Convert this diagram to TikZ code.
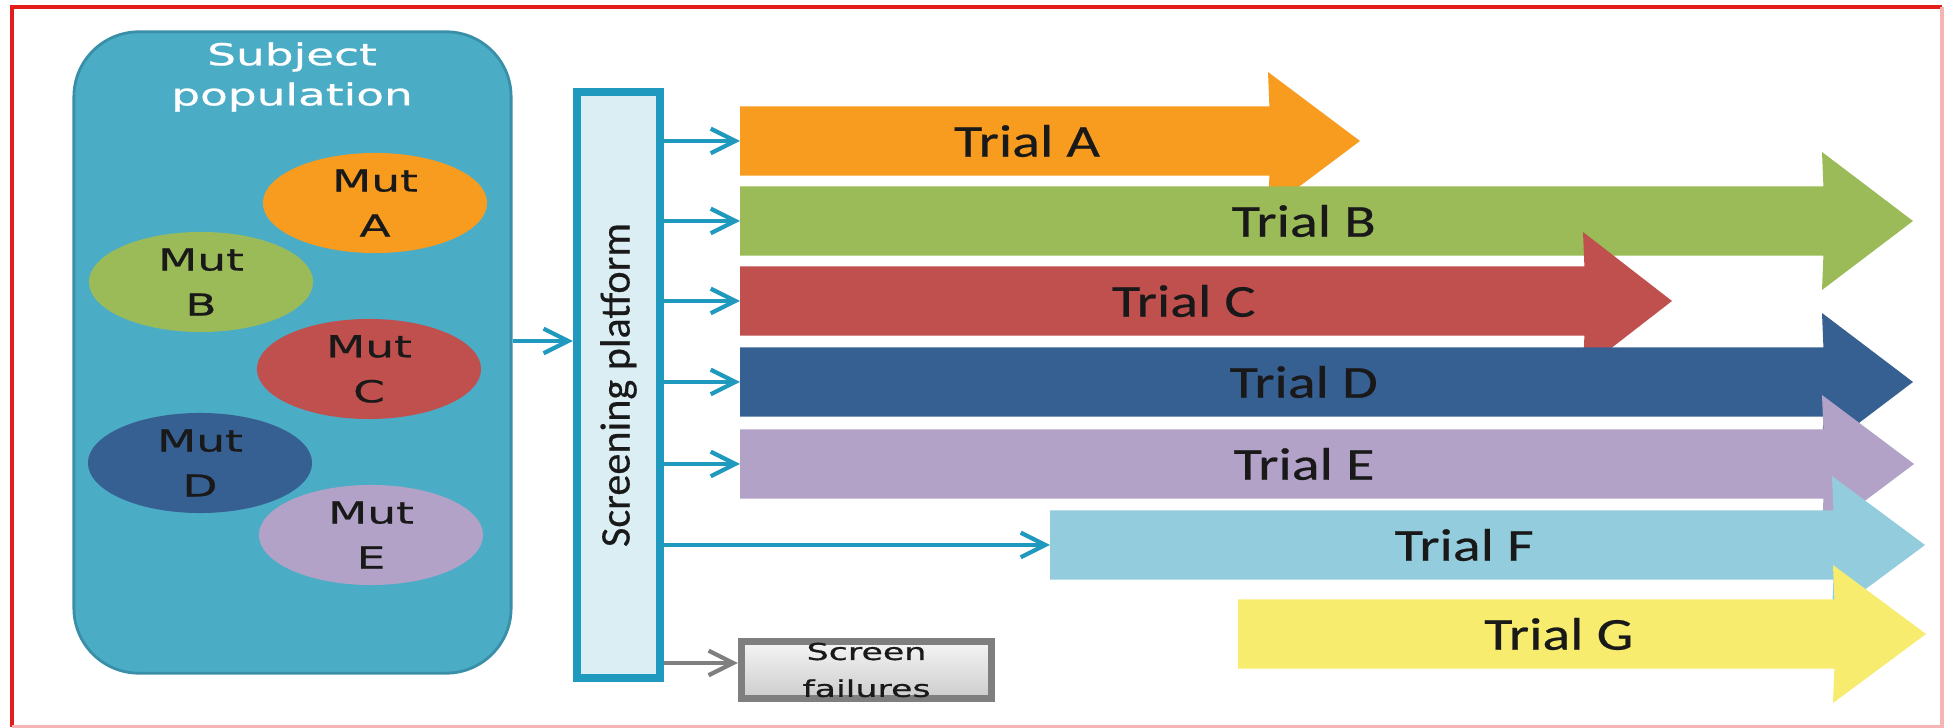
\documentclass[tikz,border=0pt]{standalone}
\usepackage{fontspec}
\usepackage{graphicx}
\usepackage{tikz}
\usetikzlibrary{arrows.meta,shapes.geometric}

\newfontfamily\trialfont[FakeStretch=1.27,FakeBold=0.5]{Carlito}
\newfontfamily\platfont[FakeBold=0.4]{Carlito}
\newfontfamily\mutfont[FakeStretch=1.5,FakeBold=0.7]{DejaVu Sans}

\definecolor{frame}{HTML}{E31C1C}
\definecolor{framelight}{HTML}{F6B4B4}
\definecolor{pop}{HTML}{4BACC6}
\definecolor{popline}{HTML}{3A8FA8}
\definecolor{feed}{HTML}{1F99BE}
\definecolor{platfill}{HTML}{DAEEF3}
\definecolor{muta}{HTML}{F89C1F}
\definecolor{mutb}{HTML}{9BBB59}
\definecolor{mutc}{HTML}{C0504D}
\definecolor{mutd}{HTML}{376092}
\definecolor{mute}{HTML}{B3A2C7}
\definecolor{trialf}{HTML}{93CDDD}
\definecolor{trialg}{HTML}{F7EC6E}
\definecolor{failgray}{HTML}{7F7F7F}

% name, colour, tail, head base, tip, y, text
\newcommand{\trialarrow}[7]{
  \node[trialbody, minimum width={(#4-#3)*0.01cm}] (#1) at (#3,#6) {};
  \fill[#2] (#1.north west) -- (#1.north east) -- (#4,{#6-69}) -- (#5,#6) -- (#4,{#6+69})
    -- (#1.south east) -- (#1.south west) -- cycle;
  \node[triallabel] (#1-label) at ({(#3+#4)/2+(#5-#4)/4},#6) {#7};
}

\begin{document}
\begin{tikzpicture}[x=0.01cm, y=-0.01cm,
  mut/.style={ellipse, minimum width=2.24cm, minimum height=1cm, inner sep=0pt, align=center,
    text=black!90, font=\mutfont\fontsize{8.6}{12.8}\selectfont},
  trialbody/.style={rectangle, anchor=west, minimum height=0.68cm, inner sep=0pt},
  triallabel/.style={text=black!90, font=\trialfont\fontsize{13}{15}\selectfont},
  feedline/.style={draw=feed, line width=1.2pt, -{Straight Barb[length=7pt, width=7pt]}},
  failline/.style={feedline, draw=failgray}]

  \useasboundingbox (0,0) rectangle (1944,728);
  \fill[white] (0,0) rectangle (1944,728);
  \draw[frame, line width=0.9pt] (12,727) -- (12,7) -- (1942,7);
  \draw[framelight, line width=0.9pt] (1942,7) -- (1942,727) -- (12,727);

  % subject population
  \node[draw=popline, fill=pop, line width=0.8pt, rounded corners=0.65cm,
        minimum width=4.37cm, minimum height=6.41cm] (pop) at (292.5,352.5) {};
  \node[text=white, align=center, font=\mutfont\fontsize{8.6}{11.4}\selectfont] (poptitle) at (292,77) {Subject\\population};
  \node[mut, fill=muta] (muta) at (375,203) {Mut\\A};
  \node[mut, fill=mutb] (mutb) at (201,282) {Mut\\B};
  \node[mut, fill=mutc] (mutc) at (369,369) {Mut\\C};
  \node[mut, fill=mutd] (mutd) at (200,463) {Mut\\D};
  \node[mut, fill=mute] (mute) at (371,535) {Mut\\E};

  % screening
  \node[draw=feed, fill=platfill, line width=2.3pt, minimum width=0.83cm, minimum height=5.86cm,
        inner sep=0pt, text=black!90] (plat) at (618.5,385)
        {\rotatebox{90}{\platfont\fontsize{12}{14}\selectfont Screening platform}};

  % trials
  \trialarrow{trialA}{muta}{740}{1268}{1360}{141}{Trial A}
  \trialarrow{trialB}{mutb}{740}{1822}{1913}{221}{Trial B}
  \trialarrow{trialC}{mutc}{740}{1583}{1672}{301}{Trial C}
  \trialarrow{trialD}{mutd}{740}{1822}{1913}{382}{Trial D}
  \trialarrow{trialE}{mute}{740}{1822}{1914}{464}{Trial E}
  \trialarrow{trialF}{trialf}{1050}{1832}{1925}{545}{Trial F}
  \trialarrow{trialG}{trialg}{1238}{1833}{1926}{634}{Trial G}

  \node[draw=failgray, line width=2pt, top color=gray!8, bottom color=gray!40,
        minimum width=2.5cm, minimum height=0.57cm, inner sep=0pt, align=center, text=black!90,
        font=\mutfont\fontsize{6.6}{10.5}\selectfont] (fail) at (866.5,670) {Screen\\failures};

  \coordinate (feedin) at (0,341);
  \coordinate (failin) at ([yshift=2pt]fail.west);
  \path
  (pop.east |- feedin) edge[feedline] (plat.west |- feedin)
  (plat.east |- trialA.west) edge[feedline] (trialA.west)
  (plat.east |- trialB.west) edge[feedline] (trialB.west)
  (plat.east |- trialC.west) edge[feedline] (trialC.west)
  (plat.east |- trialD.west) edge[feedline] (trialD.west)
  (plat.east |- trialE.west) edge[feedline] (trialE.west)
  (plat.east |- trialF.west) edge[feedline] (trialF.west)
  (plat.east |- failin) edge[failline] (failin)
  ;
\end{tikzpicture}
\end{document}
